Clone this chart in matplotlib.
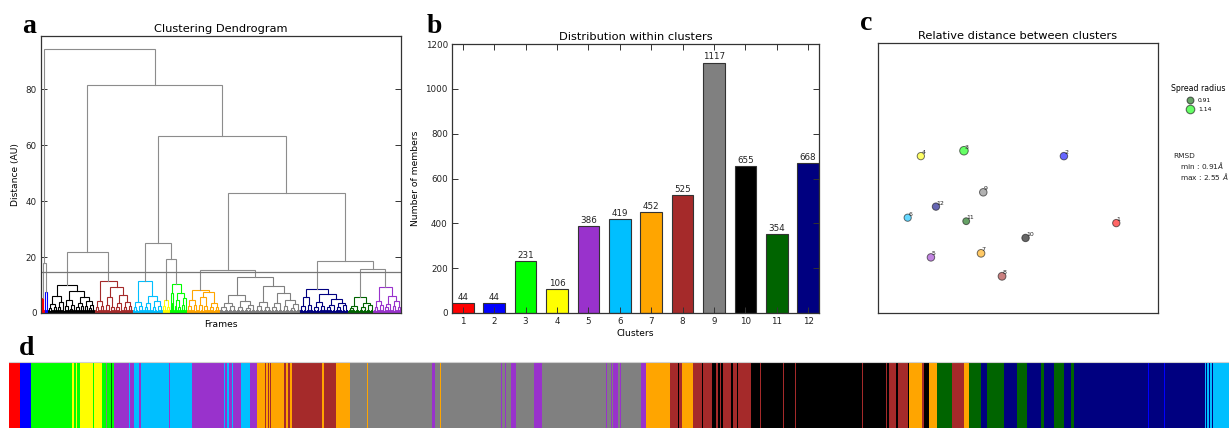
import matplotlib
matplotlib.use("Agg")
import matplotlib.pyplot as plt
import numpy as np
from matplotlib.lines import Line2D

plt.rcParams['font.family'] = ['DejaVu Sans']

# ---------------- data ----------------
clusters = list(range(1, 13))
cluster_colors = ['#ff0000', '#0000ff', '#00ff00', '#ffff00', '#9932cc', '#00bfff',
                  '#ffa500', '#a52a2a', '#808080', '#000000', '#006400', '#000080']
members = [44, 44, 231, 106, 386, 419, 452, 525, 1117, 655, 354, 668]

# dendrogram: top-level merges (height, left, right); leaves are cluster ids
cut_height = 14.7
top_tree = (94.3, (17.9, 1, 2),
            (81.5, (21.8, 10, 8),
             (63.1, (25.2, 6, (19.3, 4, 3)),
              (42.9, (15.4, 7, 9), (18.6, 12, (15.7, 11, 5))))))

# within-cluster sub-trees (height, left, right); leaves are frame bundles
tree_c1 = (5.3, 22, 22)
tree_c2 = (7.6, 22, 22)
tree_c3 = (10.4, (7.0, (2.5, 12, 12), (3.5, 12, 12)),
           (7.2, (4.5, (2.5, 25, 25), (2.0, 25, 25)), (5.5, (2.8, 25, 25), 25)))
tree_c4 = (4.8, (2.4, 25, 25), (2.0, 25, 25))
tree_c5 = (9.3, (4.2, (2.2, 30, 30), (2.8, 30, 30)),
           (6.2, (3.2, (2.0, 25, 25), 30), (4.4, (2.4, 30, 25), (2.0, 25, 25))))
tree_c6 = (11.3, (3.8, (2.0, 30, 30), (2.4, 30, 30)),
           (6.0, (3.5, (2.0, 30, 25), 30), (4.2, (2.2, 30, 30), (2.6, 30, 30))))
tree_c7 = (8.2, (4.5, (2.4, 30, 30), (2.8, 30, 25)),
           (7.4, (5.8, (3.0, 30, 30), (2.5, 30, 30)), (3.5, (2.0, 30, 30), (2.3, 30, 25))))
tree_c8 = (11.5, (4.2, (2.2, 30, 30), (2.6, 30, 25)),
           (9.3, (5.6, (3.0, 30, 30), (2.0, 30, 25)),
            (6.6, (3.4, (2.0, 30, 30), 30), (3.8, (2.2, 30, 25), (2.5, 25, 30)))))
tree_c9 = (12.7, (6.5, (3.6, (2.0, 35, 35), (2.6, 35, 30)),
                  (4.2, (2.2, 35, 30), (3.0, (1.8, 30, 30), 30))),
           (9.5, (4.0, (2.4, 35, 30), (2.0, 30, 30)),
            (7.0, (3.5, (2.0, 30, 30), 30), (4.6, (2.6, 30, 30), (3.2, (1.8, 30, 25), 30)))))
tree_c10 = (9.9, (6.2, (3.2, (1.8, 35, 30), (2.2, 30, 30)), (3.8, (2.0, 30, 25), 30)),
            (7.7, (4.5, (2.6, 35, 30), (3.0, (1.6, 25, 25), 30)),
             (5.8, (3.4, (2.0, 30, 30), (2.4, 25, 25)),
              (4.2, (2.5, 30, 25), (3.0, (1.8, 25, 25), 30)))))
tree_c11 = (5.7, (2.6, (1.8, 30, 30), 30), (3.6, (2.2, 30, 30), (2.8, 30, 25)))
tree_c12 = (8.6, (5.6, (2.4, 30, 30), (3.0, 30, 30)),
            (6.8, (4.0, (2.2, 30, 30), (2.6, 30, 25)),
             (5.0, (3.0, (2.0, 30, 30), 30), (3.6, (2.2, 30, 30), (2.8, 30, 25)))))
cluster_trees = {1: tree_c1, 2: tree_c2, 3: tree_c3, 4: tree_c4, 5: tree_c5, 6: tree_c6,
                 7: tree_c7, 8: tree_c8, 9: tree_c9, 10: tree_c10, 11: tree_c11, 12: tree_c12}

# relative distance map (positions in panel units) and spread radius
map_x = [0.851, 0.664, 0.307, 0.153, 0.189, 0.106, 0.368, 0.443, 0.376, 0.527, 0.315, 0.207]
map_y = [0.333, 0.581, 0.601, 0.581, 0.206, 0.353, 0.221, 0.136, 0.447, 0.278, 0.340, 0.394]
spread_radius = [0.98, 1.00, 1.14, 0.97, 1.00, 0.96, 1.02, 1.04, 1.00, 0.99, 0.91, 0.98]
rmsd_min, rmsd_max = 0.91, 2.55

# frame-by-frame cluster sequence (run-length: cluster id, number of frames)
strip_clusters = [1, 2, 3, 4, 3, 4, 3, 4, 3, 4, 3, 9, 3, 11, 3,
                  5, 6, 5, 6, 5, 6, 5, 6, 5,
                  6, 5, 6, 5, 6, 5, 6, 5,
                  7, 8, 7, 8, 7, 8, 7, 8, 7, 8, 7,
                  8, 7, 8, 7,
                  9, 7, 9, 7, 9, 5, 9, 7, 9, 5, 9, 5, 9, 5, 9, 5, 9, 5, 9, 5, 9, 5, 9, 5,
                  9, 5, 9, 7, 9, 5,
                  7, 8, 7, 8, 7, 8, 10, 8, 7,
                  8, 10, 8, 10, 8, 10, 8, 10, 8, 10, 8, 10, 8,
                  10, 8, 10, 8, 10, 8, 10, 8, 10, 8, 10, 8, 10, 8, 10,
                  10, 8, 10, 8, 10, 8, 10,
                  7, 8, 10, 7, 11, 7, 11, 8, 7, 8, 7, 11,
                  12, 11, 12, 11, 12, 11, 12, 11, 12, 11, 12,
                  12, 2, 12, 2, 12,
                  6, 12, 6, 12, 6, 12, 6]
strip_lengths = [45, 44, 168, 7, 8, 6, 14, 53, 4, 30, 18, 4, 16, 4, 8,
                 62, 4, 16, 20, 8, 115, 3, 92, 130,
                 4, 8, 8, 12, 4, 32, 38, 30,
                 32, 3, 10, 3, 4, 3, 53, 8, 8, 11, 7,
                 123, 8, 50, 55,
                 72, 3, 31, 3, 228, 11, 22, 3, 246, 3, 14, 3, 18, 23, 75, 31, 244, 3, 14, 3, 18, 3, 7, 18,
                 8, 3, 49, 3, 33, 20,
                 22, 3, 38, 3, 30, 33, 3, 12, 48,
                 34, 7, 34, 20, 7, 8, 4, 8, 34, 7, 16, 4, 55,
                 34, 3, 45, 3, 45, 3, 45, 3, 134, 3, 100, 3, 32, 3, 86,
                 7, 4, 8, 29, 7, 41, 7,
                 52, 9, 20, 34, 42, 3, 16, 5, 3, 40, 20, 48,
                 27, 68, 55, 41, 55, 14, 41, 41, 27, 12, 29,
                 273, 3, 65, 3, 161,
                 6, 6, 6, 4, 8, 6, 64]

# ---------------- figure ----------------
W, H = 1229, 428
fig = plt.figure(figsize=(W / 100, H / 100), dpi=100)


def px_axes(left, top, right, bottom):
    return fig.add_axes([left / W, 1 - bottom / H, (right - left) / W, (bottom - top) / H])


spine_col = '#333333'
link_col = '#8c8c8c'
tick_fs = 6.3
label_fs = 6.6
title_fs = 8.2


def style_axes(ax):
    for s in ax.spines.values():
        s.set_color(spine_col)
        s.set_linewidth(0.9)
    ax.tick_params(direction='in', length=4, width=0.7, colors=spine_col,
                   labelcolor='#222222', labelsize=tick_fs, pad=3)


# ---- panel a: dendrogram ----
axa = px_axes(41, 36, 401, 313)
style_axes(axa)
segs = []


def tree_weight(node):
    if isinstance(node, tuple):
        return tree_weight(node[1]) + tree_weight(node[2])
    return node


def draw_sub(node, x0, color, scale):
    if not isinstance(node, tuple):
        w = node * scale
        xc = x0 + w / 2
        hb = 1.0
        segs.append(([xc - w / 4, xc - w / 4, xc + w / 4, xc + w / 4], [0, hb, hb, 0], color))
        return xc, hb, x0 + w
    h, left, right = node
    xl, hl, x1 = draw_sub(left, x0, color, scale)
    xr, hr, x2 = draw_sub(right, x1, color, scale)
    segs.append(([xl, xl, xr, xr], [hl, h, h, hr], color))
    return (xl + xr) / 2, h, x2


cluster_spans = {}


def draw_top(node, x0):
    if not isinstance(node, tuple):
        tree = cluster_trees[node]
        scale = members[node - 1] / tree_weight(tree)
        xc, h, x1 = draw_sub(tree, x0, cluster_colors[node - 1], scale)
        cluster_spans[node] = (x0, x1)
        return xc, h, x1
    h, left, right = node
    xl, hl, x1 = draw_top(left, x0)
    xr, hr, x2 = draw_top(right, x1)
    segs.append(([xl, xl, xr, xr], [hl, h, h, hr], link_col))
    return (xl + xr) / 2, h, x2


_, top_h, total_frames = draw_top(top_tree, 0.0)
for xs, ys, c in segs:
    axa.plot(xs, ys, color=c, lw=0.8, solid_joinstyle='miter')
for cid, (s0, s1) in cluster_spans.items():
    axa.bar(s0, 0.7, width=s1 - s0, align='edge', color=cluster_colors[cid - 1], lw=0)
axa.axhline(cut_height, color='#777777', lw=0.9)
axa.set_xlim(0, total_frames)
axa.set_ylim(0, top_h * 1.05)
axa.set_xticks([])
axa.set_yticks([0, 20, 40, 60, 80])
axa.tick_params(axis='y', left=True, right=True)
axa.set_title('Clustering Dendrogram', fontsize=title_fs, pad=3)
axa.set_ylabel('Distance (AU)', fontsize=label_fs, labelpad=4)
axa.set_xlabel('Frames', fontsize=label_fs, labelpad=5)

# ---- panel b: bar chart ----
axb = px_axes(452, 44, 819, 313)
style_axes(axb)
bw = 0.69
bars = axb.bar(clusters, members, width=bw, color=cluster_colors, edgecolor=spine_col, lw=0.8)
for xk, v in zip(clusters, members):
    axb.text(xk, v + 5, str(v), ha='center', va='bottom', fontsize=tick_fs, color='#222222')
axb.set_xlim(clusters[0] - bw / 2, clusters[-1] + bw / 2)
axb.set_ylim(0, 1200)
axb.set_yticks(range(0, 1201, 200))
axb.set_xticks(clusters)
axb.tick_params(top=True, right=True)
axb.set_title('Distribution within clusters', fontsize=title_fs, pad=3)
axb.set_ylabel('Number of members', fontsize=label_fs, labelpad=4)
axb.set_xlabel('Clusters', fontsize=label_fs, labelpad=2)

# ---- panel c: relative distance map ----
axc = px_axes(878, 43, 1158, 313)
style_axes(axc)
axc.set_xlim(0, 1)
axc.set_ylim(0, 1)
axc.set_xticks([])
axc.set_yticks([])
sizes = [(5.4 * r) ** 2 for r in spread_radius]
axc.scatter(map_x, map_y, s=sizes, c=cluster_colors, alpha=0.6, edgecolors='#111111',
            linewidths=0.7, zorder=3)
for k, (xv, yv) in enumerate(zip(map_x, map_y)):
    axc.text(xv + 0.002, yv + 0.004, str(clusters[k]), fontsize=4.5, ha='left', va='bottom',
             color='#222222', zorder=4)
axc.set_title('Relative distance between clusters', fontsize=title_fs, pad=3)

i_min = int(np.argmin(spread_radius))
i_max = int(np.argmax(spread_radius))
handles = [Line2D([], [], ls='none', marker='o', markersize=5.4 * spread_radius[i],
                  markerfacecolor=cluster_colors[i], alpha=0.6, markeredgecolor='#111111',
                  markeredgewidth=0.8) for i in (i_min, i_max)]
leg = axc.legend(handles, ['%.2f' % spread_radius[i_min], '%.2f' % spread_radius[i_max]],
                 title='Spread radius', loc='upper center', bbox_to_anchor=(1.145, 0.848),
                 frameon=False, fontsize=4.3, title_fontsize=5.6, handletextpad=0.8,
                 borderaxespad=0, labelspacing=0.75, handlelength=1.2, borderpad=0)
fig.text(1173 / W, 1 - 156 / H, 'RMSD', fontsize=5.3, va='center', ha='left', color='#222222')
fig.text(1180 / W, 1 - 165 / H, r'min : %.2f$\AA$' % rmsd_min, fontsize=5.3, va='center',
         ha='left', color='#222222')
fig.text(1180 / W, 1 - 176 / H, r'max : %.2f $\AA$' % rmsd_max, fontsize=5.3, va='center',
         ha='left', color='#222222')

# ---- panel d: frame strip ----
axd = px_axes(9, 362, 1229, 428)
starts = np.concatenate([[0], np.cumsum(strip_lengths)[:-1]])
axd.bar(starts, 1, width=strip_lengths, align='edge',
        color=[cluster_colors[c - 1] for c in strip_clusters], lw=0)
axd.set_xlim(0, float(np.sum(strip_lengths)))
axd.set_ylim(0, 1)
axd.set_xticks([])
axd.set_yticks([])
for name, s in axd.spines.items():
    s.set_visible(name == 'top')
axd.spines['top'].set_color('#d0d0d0')
axd.spines['top'].set_linewidth(0.8)

# ---- panel letters ----
letter_kw = dict(fontfamily='Liberation Serif', fontweight='bold', fontsize=20,
                 ha='left', va='baseline', color='black')
fig.text(22 / W, 1 - 33 / H, 'a', **letter_kw)
fig.text(427 / W, 1 - 33 / H, 'b', **letter_kw)
fig.text(860 / W, 1 - 30 / H, 'c', **letter_kw)
fig.text(19 / W, 1 - 355 / H, 'd', **letter_kw)

fig.savefig('out.png', dpi=100)
